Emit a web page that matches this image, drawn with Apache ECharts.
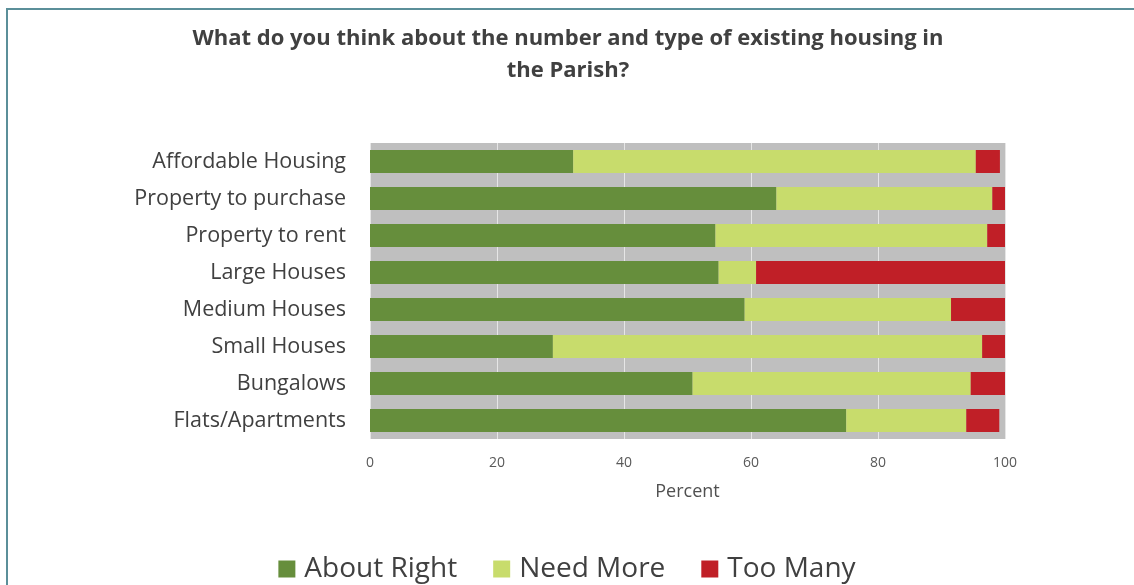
<!DOCTYPE html>
<html>
<head>
<meta charset="utf-8">
<script src="https://cdn.jsdelivr.net/npm/echarts@6/dist/echarts.min.js"></script>
<style>
  html, body { margin: 0; padding: 0; background: #fff; }
  #frame { position: absolute; left: 6px; top: 8px; width: 1134px; height: 600px;
           border-top: 2px solid #5b8f99; border-left: 2px solid #5b8f99; }
  #chart { position: absolute; left: 0; top: 0; width: 1134px; height: 585px; }
</style>
</head>
<body>
<div id="frame"></div>
<div id="chart"></div>
<script>
// categories top to bottom
var categories = ['Affordable Housing', 'Property to purchase', 'Property to rent', 'Large Houses',
                  'Medium Houses', 'Small Houses', 'Bungalows', 'Flats/Apartments'];
// percent per answer
var aboutRight = [32, 64, 54.4, 54.9, 59, 28.8, 50.8, 75];
var needMore   = [63.4, 34, 42.8, 5.9, 32.5, 67.6, 43.8, 18.9];
var tooMany    = [3.8, 2, 2.8, 39.2, 8.5, 3.6, 5.4, 5.2];
var xTicks = [0, 20, 40, 60, 80, 100];

var chart = echarts.init(document.getElementById('chart'));

function bar(name, data, color) {
    return {
        name: name,
        type: 'bar',
        stack: 'total',
        barWidth: 23,
        data: data,
        itemStyle: { color: color },
        emphasis: { disabled: true }
    };
}

chart.setOption({
    animation: false,
    textStyle: { fontFamily: 'Open Sans' },
    title: {
        text: 'What do you think about the number and type of existing housing in\nthe Parish?',
        left: 563, textAlign: 'center', top: 18,
        textStyle: { fontSize: 22, fontWeight: 'bold', color: '#404040', lineHeight: 32,
                     fontFamily: 'Open Sans' }
    },
    grid: {
        left: 370, right: 129, top: 143, height: 296,
        show: true, backgroundColor: '#bfbfbf', borderWidth: 0
    },
    xAxis: {
        type: 'value', min: xTicks[0], max: xTicks[xTicks.length - 1], interval: 20,
        name: 'Percent', nameLocation: 'middle', nameGap: 44,
        nameTextStyle: { fontSize: 18, color: '#505050' },
        axisLine: { show: false }, axisTick: { show: false },
        axisLabel: { fontSize: 14, color: '#595959', margin: 17 },
        splitLine: { lineStyle: { color: '#e6e6e6', width: 1 } }
    },
    yAxis: {
        type: 'category', data: categories, inverse: true,
        axisLine: { show: false }, axisTick: { show: false },
        axisLabel: { fontSize: 21.5, color: '#404040', margin: 24 }
    },
    legend: {
        bottom: -3, left: 'center', itemWidth: 17, itemHeight: 17, itemGap: 36,
        icon: 'rect',
        textStyle: { fontSize: 28, color: '#404040', padding: [0, 0, 0, 4] },
        data: ['About Right', 'Need More', 'Too Many']
    },
    series: [
        bar('About Right', aboutRight, '#668e3c'),
        bar('Need More', needMore, '#c8dc6c'),
        bar('Too Many', tooMany, '#c01f27')
    ]
});
</script>
</body>
</html>
